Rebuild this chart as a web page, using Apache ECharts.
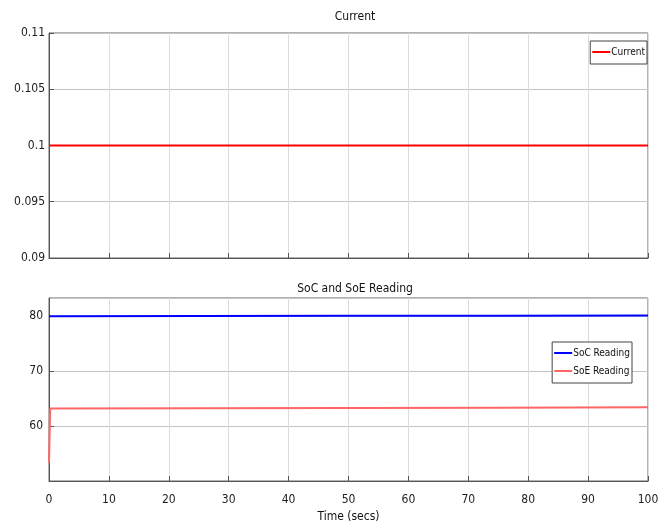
<!DOCTYPE html>
<html><head><meta charset="utf-8">
<script src="https://cdn.jsdelivr.net/npm/echarts@6/dist/echarts.min.js"></script>
<style>html,body{margin:0;padding:0;background:#fff}#c{width:672px;height:526px}</style>
</head><body><div id="c"></div>
<script>
const timeCurrent = [0, 100];
const currentVals = [0.1, 0.1];
const timeSoc = [0, 25, 50, 75, 100];
const socVals = [80.0, 80.02, 80.05, 80.07, 80.1];
const timeSoe = [0, 0.2, 25, 50, 75, 100];
const soeVals = [53.3, 63.2, 63.25, 63.3, 63.35, 63.4];
const xTicks = [0, 10, 20, 30, 40, 50, 60, 70, 80, 90, 100];

const FONT = '"DejaVu Sans Condensed", "Liberation Sans Narrow", "Liberation Sans", Arial, sans-serif';
const zip = (a, b) => a.map((t, i) => [t, b[i]]);

const chart = echarts.init(document.getElementById('c'), null, {renderer: 'canvas'});
const axisCommon = {
  axisLine: {show: true, lineStyle: {color: '#555', width: 1}},
  axisTick: {show: true, inside: true, length: 5, lineStyle: {color: '#555'}},
};
chart.setOption({
  animation: false,
  backgroundColor: '#fff',
  textStyle: {fontFamily: FONT},
  title: [
    {text: 'Current', left: 350, top: 6, textAlign: 'center',
     textStyle: {fontFamily: FONT, fontSize: 12, fontWeight: 'normal', color: '#111'}},
    {text: 'SoC and SoE Reading', left: 350, top: 278, textAlign: 'center',
     textStyle: {fontFamily: FONT, fontSize: 12, fontWeight: 'normal', color: '#111'}}
  ],
  grid: [
    {left: 49, right: 24, top: 33, height: 225, show: true, borderColor: '#666', borderWidth: 1},
    {left: 49, right: 24, top: 298, height: 183, show: true, borderColor: '#666', borderWidth: 1}
  ],
  legend: [
    {data: ['Current'], orient: 'vertical', right: 25, top: 41,
     borderColor: '#444', borderWidth: 1, padding: [6, 2, 7, 2], itemGap: 2,
     itemWidth: 18, itemHeight: 2, icon: 'rect',
     textStyle: {fontFamily: FONT, fontSize: 10, color: '#111', padding: [0, 0, 0, -4]}},
    {data: ['SoC Reading', 'SoE Reading'], orient: 'vertical', right: 40, top: 342,
     borderColor: '#444', borderWidth: 1, padding: [6, 2, 7, 2], itemGap: 8,
     itemWidth: 18, itemHeight: 2, icon: 'rect', backgroundColor: '#fff',
     textStyle: {fontFamily: FONT, fontSize: 10, color: '#111', padding: [0, 0, 0, -4]}}
  ],
  xAxis: [
    Object.assign({}, axisCommon, {gridIndex: 0, type: 'value', min: xTicks[0], max: xTicks[xTicks.length-1], interval: 10,
      axisLabel: {show: false},
      splitLine: {show: true, lineStyle: {color: '#dcdcdc'}}}),
    Object.assign({}, axisCommon, {gridIndex: 1, type: 'value', min: xTicks[0], max: xTicks[xTicks.length-1], interval: 10,
      name: 'Time (secs)', nameLocation: 'middle', nameGap: 30,
      nameTextStyle: {fontFamily: FONT, fontSize: 12, color: '#111'},
      axisLabel: {fontFamily: FONT, fontSize: 12, color: '#222', margin: 13},
      splitLine: {show: true, lineStyle: {color: '#dcdcdc'}}})
  ],
  yAxis: [
    Object.assign({}, axisCommon, {gridIndex: 0, type: 'value', min: 0.09, max: 0.11, interval: 0.005,
      axisLabel: {fontFamily: FONT, fontSize: 12, color: '#222', margin: 4,
        formatter: v => String(+v.toFixed(3))},
      splitLine: {show: true, lineStyle: {color: '#c4c4c4'}}}),
    Object.assign({}, axisCommon, {gridIndex: 1, type: 'value', min: 50, max: 83.3, interval: 10,
      axisLabel: {fontFamily: FONT, fontSize: 12, color: '#222', margin: 6,
        showMinLabel: false, showMaxLabel: false},
      splitLine: {show: true, lineStyle: {color: '#c4c4c4'}}})
  ],
  series: [
    {name: 'Current', type: 'line', xAxisIndex: 0, yAxisIndex: 0, data: zip(timeCurrent, currentVals),
     showSymbol: false, lineStyle: {color: '#ff0000', width: 2}, itemStyle: {color: '#ff0000'}},
    {name: 'SoC Reading', type: 'line', xAxisIndex: 1, yAxisIndex: 1, data: zip(timeSoc, socVals),
     showSymbol: false, lineStyle: {color: '#0000ff', width: 2}, itemStyle: {color: '#0000ff'}},
    {name: 'SoE Reading', type: 'line', xAxisIndex: 1, yAxisIndex: 1, data: zip(timeSoe, soeVals),
     showSymbol: false, lineStyle: {color: '#ff6666', width: 2}, itemStyle: {color: '#ff6666'}}
  ]
});
</script></body></html>
